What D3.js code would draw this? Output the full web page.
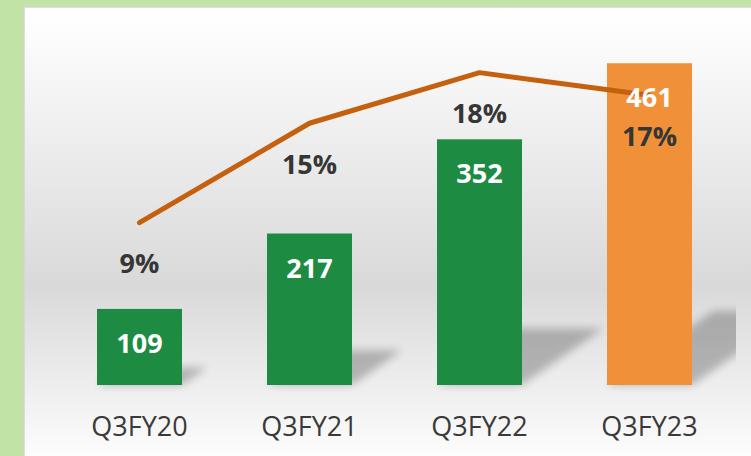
<!DOCTYPE html>
<html>
<head>
<meta charset="utf-8">
<script src="https://cdn.jsdelivr.net/npm/d3@7"></script>
<style>
  html, body { margin: 0; padding: 0; background: #c1e3a5; }
  svg { display: block; }
</style>
</head>
<body>
<svg id="chart" width="751" height="456"></svg>
<script>
const categories = ["Q3FY20", "Q3FY21", "Q3FY22", "Q3FY23"];
const values = [109, 217, 352, 461];
const growthPct = [9.3, 15.0, 17.9, 16.6];
const growthLabels = ["9%", "15%", "18%", "17%"];
const barColors = ["#1e8b43", "#1e8b43", "#1e8b43", "#f0913a"];

const W = 751, H = 456;
const svg = d3.select("#chart");
const defs = svg.append("defs");

const grad = defs.append("linearGradient")
  .attr("id", "bg").attr("x1", 0).attr("y1", 0).attr("x2", 0).attr("y2", 1);
grad.append("stop").attr("offset", "0%").attr("stop-color", "#ffffff");
grad.append("stop").attr("offset", "10%").attr("stop-color", "#fafafa");
grad.append("stop").attr("offset", "62%").attr("stop-color", "#d9d9d9");
grad.append("stop").attr("offset", "100%").attr("stop-color", "#fdfdfd");

const blur = defs.append("filter").attr("id", "blur")
  .attr("x", "-50%").attr("y", "-50%").attr("width", "200%").attr("height", "200%");
blur.append("feGaussianBlur").attr("stdDeviation", 4);

defs.append("clipPath").attr("id", "plotclip")
  .append("rect").attr("x", 24).attr("y", 7).attr("width", 712).attr("height", 449);

// green background
svg.append("rect").attr("x", 0).attr("y", 0).attr("width", W).attr("height", H).attr("fill", "#c1e3a5");
// panel
svg.append("rect").attr("x", 24).attr("y", 7).attr("width", W - 23).attr("height", H - 6)
  .attr("fill", "url(#bg)").attr("stroke", "#d4d4d4").attr("stroke-width", 1.5);

const x = d3.scaleBand().domain(categories).range([54.5, 734.5]).paddingInner(0.5).paddingOuter(0.25);
const y = d3.scaleLinear().domain([0, 500]).range([385, 36]);
const y2 = d3.scaleLinear().domain([0, 20]).range([385, 36]);

const data = categories.map((c, i) => ({c, v: values[i], p: growthPct[i], pl: growthLabels[i], col: barColors[i]}));

// shadows
const shadowG = svg.append("g").attr("clip-path", "url(#plotclip)");
shadowG.selectAll("path").data(data).join("path")
  .attr("d", d => {
    const x0 = x(d.c), x1 = x0 + x.bandwidth();
    const h = y(0) - y(d.v);
    const dx = 0.33 * h, dy = 0.23 * h;
    const b = y(0);
    return `M${x0},${b}L${x1},${b}L${x1 + dx},${b - dy}L${x0 + dx},${b - dy}Z`;
  })
  .attr("fill", "#000").attr("opacity", 0.24).attr("filter", "url(#blur)");

// bars
svg.append("g").selectAll("rect").data(data).join("rect")
  .attr("x", d => x(d.c)).attr("y", d => y(d.v))
  .attr("width", x.bandwidth()).attr("height", d => y(0) - y(d.v))
  .attr("fill", d => d.col);

// line
const line = d3.line().x(d => x(d.c) + x.bandwidth() / 2).y(d => y2(d.p));
svg.append("path").datum(data).attr("d", line)
  .attr("fill", "none").attr("stroke", "#c5600f").attr("stroke-width", 5)
  .attr("stroke-linecap", "round").attr("stroke-linejoin", "round");

const font = "'Open Sans', 'DejaVu Sans', sans-serif";

// value labels
svg.append("g").selectAll("text").data(data).join("text")
  .attr("x", d => x(d.c) + x.bandwidth() / 2)
  .attr("y", d => y(d.v) + 44)
  .attr("text-anchor", "middle")
  .attr("font-family", font).attr("font-weight", 700).attr("font-size", 27)
  .attr("fill", "#ffffff")
  .text(d => d.v);

// percent labels
svg.append("g").selectAll("text").data(data).join("text")
  .attr("x", d => x(d.c) + x.bandwidth() / 2)
  .attr("y", d => y2(d.p) + 50.5)
  .attr("text-anchor", "middle")
  .attr("font-family", font).attr("font-weight", 700).attr("font-size", 27)
  .attr("fill", "#363636")
  .text(d => d.pl);

// x axis
const xAxis = svg.append("g").attr("transform", `translate(0,${y(0)})`)
  .call(d3.axisBottom(x).tickSize(0).tickPadding(0));
xAxis.select(".domain").remove();
xAxis.selectAll("text")
  .attr("y", 51).attr("dy", 0)
  .attr("font-family", font).attr("font-size", 27).attr("fill", "#3a3a3a");
</script>
</body>
</html>
